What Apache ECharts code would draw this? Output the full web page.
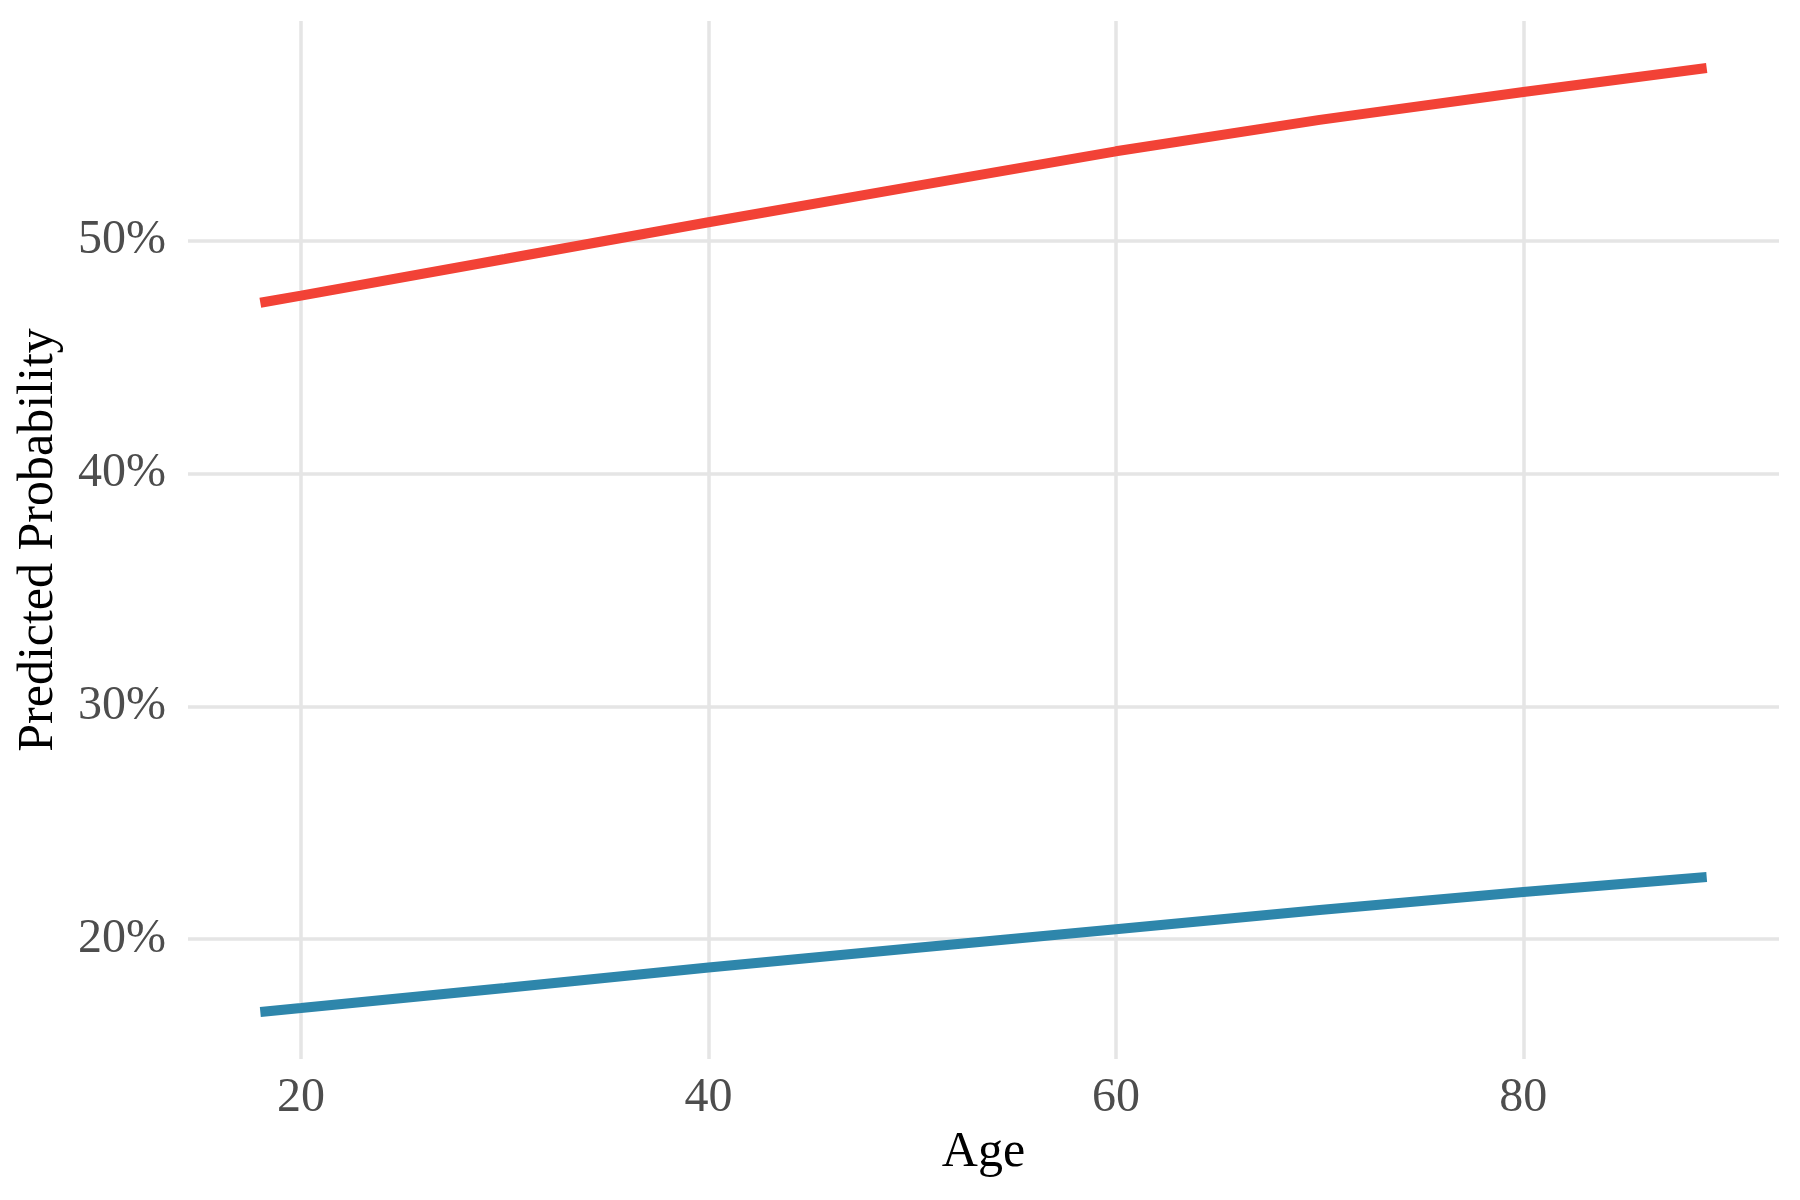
<!DOCTYPE html>
<html>
<head>
<meta charset="utf-8">
<script src="https://cdn.jsdelivr.net/npm/echarts@6/dist/echarts.min.js"></script>
<style>
  html, body { margin: 0; padding: 0; background: #ffffff; }
  #chart { width: 1800px; height: 1200px; }
</style>
</head>
<body>
<div id="chart"></div>
<script>
// Data
const ages = [18, 20, 30, 40, 50, 60, 70, 80, 89];
const redProb = [47.34, 47.65, 49.22, 50.8, 52.33, 53.85, 55.2, 56.4, 57.43];   // percent
const blueProb = [16.86, 17.03, 17.89, 18.77, 19.6, 20.42, 21.24, 22.02, 22.66]; // percent
const xTicks = [20, 40, 60, 80];
const yTicks = [20, 30, 40, 50];

const FONT = '"Liberation Serif", "DejaVu Serif", serif';

const chart = echarts.init(document.getElementById('chart'), null, { renderer: 'canvas' });

function pairs(xs, ys) { return xs.map((x, i) => [x, ys[i]]); }

chart.setOption({
  animation: false,
  backgroundColor: '#ffffff',
  grid: { left: 188, right: 21, top: 21, bottom: 141, containLabel: false },
  xAxis: {
    type: 'value',
    min: 14.45,
    max: 92.55,
    name: 'Age',
    nameLocation: 'middle',
    nameGap: 69,
    nameTextStyle: { fontFamily: FONT, fontSize: 50, color: '#000000' },
    axisLine: { show: false },
    axisTick: { show: false, customValues: xTicks },
    axisLabel: {
      customValues: xTicks,
      fontFamily: FONT, fontSize: 48, color: '#4d4d4d', margin: 15
    },
    splitLine: { show: true, lineStyle: { color: '#e5e5e5', width: 3.5 } }
  },
  yAxis: {
    type: 'value',
    min: 14.84,
    max: 59.45,
    name: 'Predicted Probability',
    nameLocation: 'middle',
    nameGap: 124,
    nameTextStyle: { fontFamily: FONT, fontSize: 50, color: '#000000' },
    axisLine: { show: false },
    axisTick: { show: false, customValues: yTicks },
    axisLabel: {
      customValues: yTicks,
      formatter: v => Math.round(v) + '%',
      fontFamily: FONT, fontSize: 48, color: '#4d4d4d', margin: 22
    },
    splitLine: { show: true, lineStyle: { color: '#e5e5e5', width: 3.5 } }
  },
  series: [
    {
      type: 'line',
      data: pairs(ages, redProb),
      showSymbol: false,
      symbol: 'none',
      lineStyle: { color: '#F24236', width: 10, cap: 'butt' },
      itemStyle: { color: '#F24236' },
      z: 3
    },
    {
      type: 'line',
      data: pairs(ages, blueProb),
      showSymbol: false,
      symbol: 'none',
      lineStyle: { color: '#2E86AB', width: 10, cap: 'butt' },
      itemStyle: { color: '#2E86AB' },
      z: 3
    }
  ]
});
</script>
</body>
</html>
